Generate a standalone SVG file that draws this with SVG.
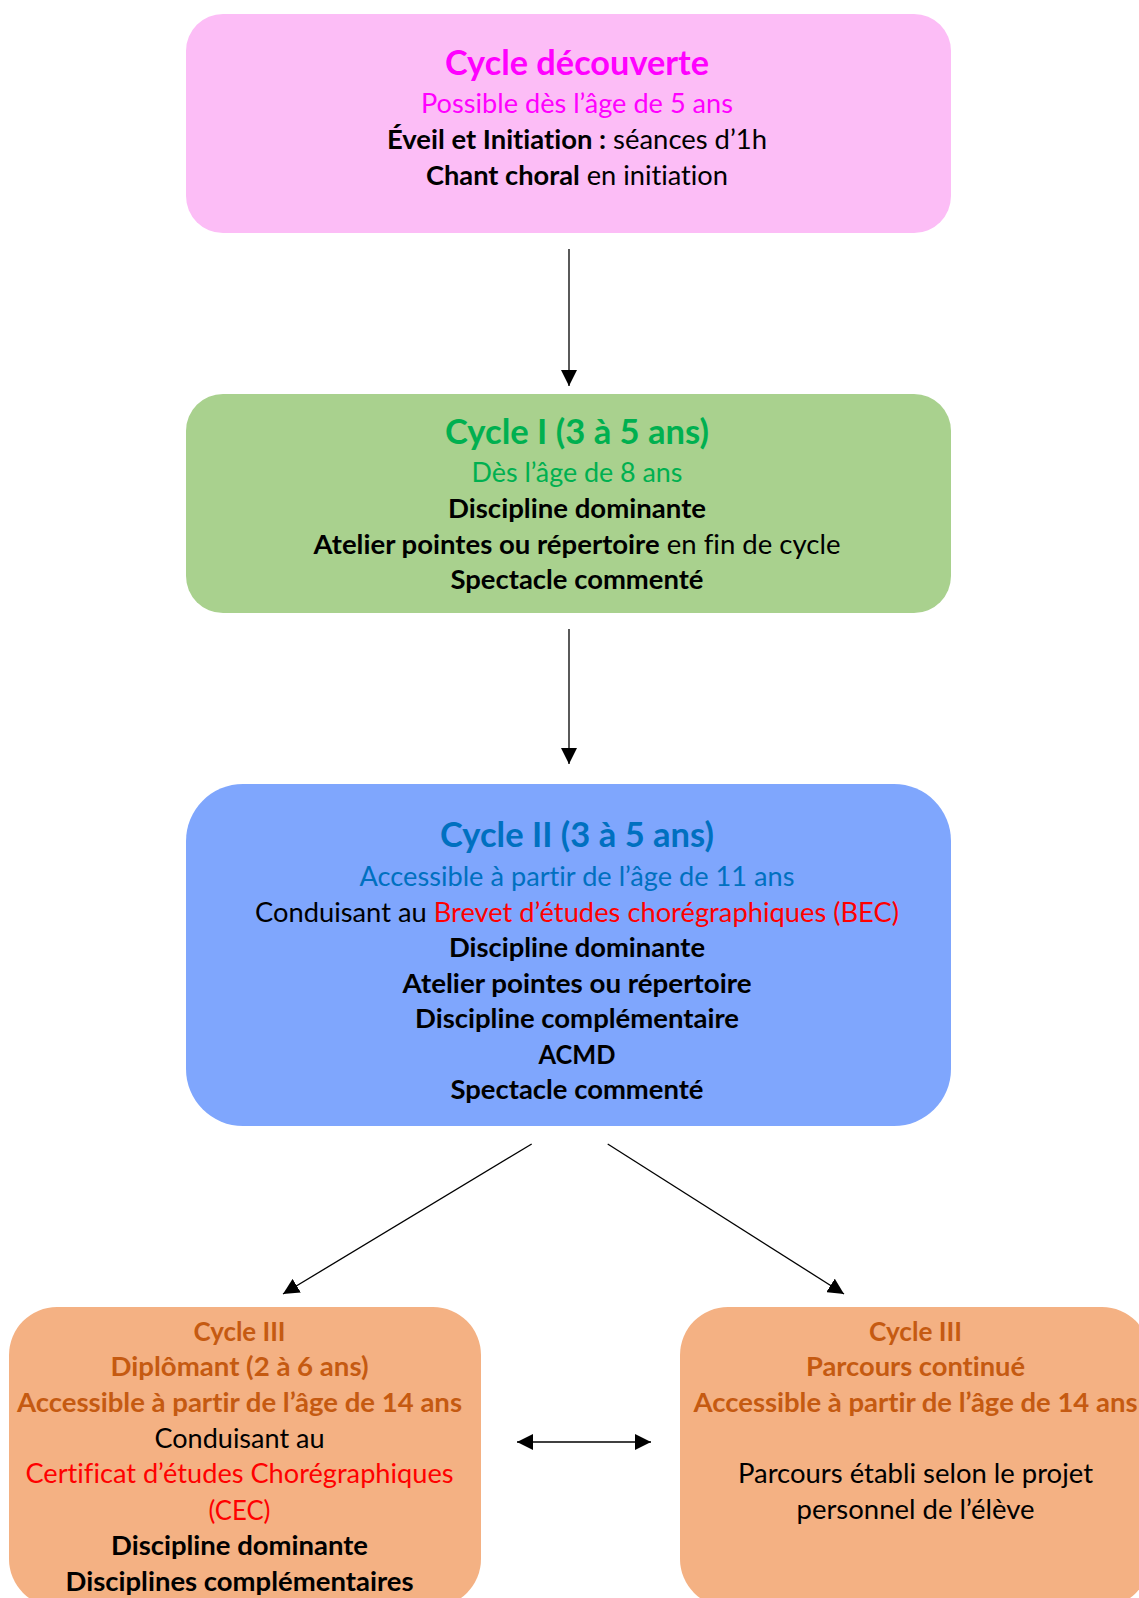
<svg xmlns="http://www.w3.org/2000/svg" width="1139" height="1598" viewBox="0 0 1139 1598">
<style>
text{font-family:Lato,"Open Sans","Liberation Sans",sans-serif;font-size:27px;text-anchor:middle;fill:#000;font-variant-ligatures:none;font-feature-settings:"liga" 0,"clig" 0}
.t{font-size:34px;font-weight:bold}
.b{font-weight:bold}
.mag{fill:#FF00FF}
.grn{fill:#00B050}
.blu{fill:#0070C0}
.red{fill:#FF0000}
.org{fill:#C55A11;font-weight:bold}
.conn{stroke:#000;stroke-width:1.3;fill:none}
</style>
<defs>
<marker id="ah" markerUnits="userSpaceOnUse" markerWidth="16" markerHeight="16" refX="16" refY="8" orient="auto-start-reverse">
<path d="M0,0 L16,8 L0,16 z" fill="#000"/>
</marker>
</defs>
<rect width="1139" height="1598" fill="#fff"/>
<g id="cycle-decouverte">
<rect x="186" y="14" width="765" height="219" rx="37" fill="#FCBDF6"/>
<text x="577" y="75" class="t mag" textLength="264" lengthAdjust="spacingAndGlyphs">Cycle découverte</text>
<text x="577" y="113" class="mag" textLength="312" lengthAdjust="spacingAndGlyphs">Possible dès l’âge de 5 ans</text>
<text x="577" y="149" textLength="380" lengthAdjust="spacingAndGlyphs"><tspan class="b">Éveil et Initiation :</tspan> séances d’1h</text>
<text x="577" y="185" textLength="302" lengthAdjust="spacingAndGlyphs"><tspan class="b">Chant choral</tspan> en initiation</text>
</g>
<g id="cycle-1">
<rect x="186" y="394" width="765" height="219" rx="37" fill="#A9D18E"/>
<text x="577" y="444" class="t grn" textLength="264" lengthAdjust="spacingAndGlyphs">Cycle I (3 à 5 ans)</text>
<text x="577" y="482" class="grn" textLength="211" lengthAdjust="spacingAndGlyphs">Dès l’âge de 8 ans</text>
<text x="577" y="518" class="b" textLength="258" lengthAdjust="spacingAndGlyphs">Discipline dominante</text>
<text x="577" y="554" textLength="527" lengthAdjust="spacingAndGlyphs"><tspan class="b">Atelier pointes ou répertoire</tspan> en fin de cycle</text>
<text x="577" y="589" class="b" textLength="253" lengthAdjust="spacingAndGlyphs">Spectacle commenté</text>
</g>
<g id="cycle-2">
<rect x="186" y="784" width="765" height="342" rx="57" fill="#7FA6FD"/>
<text x="577" y="847" class="t blu" textLength="274" lengthAdjust="spacingAndGlyphs">Cycle II (3 à 5 ans)</text>
<text x="577" y="886" class="blu" textLength="435" lengthAdjust="spacingAndGlyphs">Accessible à partir de l’âge de 11 ans</text>
<text x="577" y="922" textLength="644" lengthAdjust="spacingAndGlyphs">Conduisant au <tspan class="red">Brevet d’études chorégraphiques (BEC)</tspan></text>
<text x="577" y="957" class="b" textLength="256" lengthAdjust="spacingAndGlyphs">Discipline dominante</text>
<text x="577" y="993" class="b" textLength="349" lengthAdjust="spacingAndGlyphs">Atelier pointes ou répertoire</text>
<text x="577" y="1028" class="b" textLength="324" lengthAdjust="spacingAndGlyphs">Discipline complémentaire</text>
<text x="577" y="1064" class="b" textLength="77" lengthAdjust="spacingAndGlyphs">ACMD</text>
<text x="577" y="1099" class="b" textLength="253" lengthAdjust="spacingAndGlyphs">Spectacle commenté</text>
</g>
<g id="cycle-3-diplomant">
<rect x="9" y="1307" width="472" height="300" rx="48" fill="#F4B183"/>
<text x="239.5" y="1341" class="org" textLength="92" lengthAdjust="spacingAndGlyphs">Cycle III</text>
<text x="239.5" y="1376" class="org" textLength="258" lengthAdjust="spacingAndGlyphs">Diplômant (2 à 6 ans)</text>
<text x="239.5" y="1412" class="org" textLength="445" lengthAdjust="spacingAndGlyphs">Accessible à partir de l’âge de 14 ans</text>
<text x="239.5" y="1448" textLength="170" lengthAdjust="spacingAndGlyphs">Conduisant au</text>
<text x="239.5" y="1483" class="red" textLength="428" lengthAdjust="spacingAndGlyphs">Certificat d’études Chorégraphiques</text>
<text x="239.5" y="1520" class="red" textLength="62" lengthAdjust="spacingAndGlyphs">(CEC)</text>
<text x="239.5" y="1555" class="b" textLength="257" lengthAdjust="spacingAndGlyphs">Discipline dominante</text>
<text x="239.5" y="1591" class="b" textLength="348" lengthAdjust="spacingAndGlyphs">Disciplines complémentaires</text>
</g>
<g id="cycle-3-parcours">
<rect x="680" y="1307" width="470" height="300" rx="48" fill="#F4B183"/>
<text x="915.5" y="1341" class="org" textLength="93" lengthAdjust="spacingAndGlyphs">Cycle III</text>
<text x="915.5" y="1376" class="org" textLength="219" lengthAdjust="spacingAndGlyphs">Parcours continué</text>
<text x="915.5" y="1412" class="org" textLength="444" lengthAdjust="spacingAndGlyphs">Accessible à partir de l’âge de 14 ans</text>
<text x="915.5" y="1483" textLength="355" lengthAdjust="spacingAndGlyphs">Parcours établi selon le projet</text>
<text x="915.5" y="1519" textLength="238" lengthAdjust="spacingAndGlyphs">personnel de l’élève</text>
</g>
<g id="connectors">
<line class="conn" x1="569" y1="249" x2="569" y2="386" marker-end="url(#ah)"/>
<line class="conn" x1="569" y1="629" x2="569" y2="764" marker-end="url(#ah)"/>
<line class="conn" x1="531.7" y1="1144" x2="283" y2="1294" marker-end="url(#ah)"/>
<line class="conn" x1="607.7" y1="1144" x2="844" y2="1294" marker-end="url(#ah)"/>
<line class="conn" x1="517" y1="1442" x2="651" y2="1442" marker-start="url(#ah)" marker-end="url(#ah)"/>
</g>
</svg>
